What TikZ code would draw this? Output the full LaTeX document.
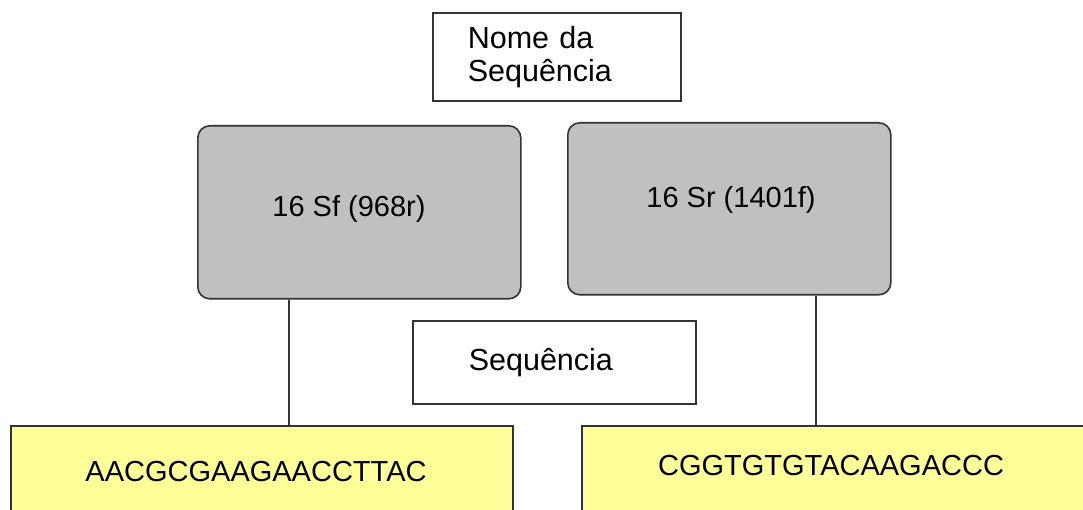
\documentclass[tikz,border=0pt]{standalone}
\usepackage{fontspec}
\setmainfont{Liberation Sans}
\definecolor{boxgrey}{HTML}{C0C0C0}
\definecolor{seqyellow}{HTML}{FFFF99}
\definecolor{edgegrey}{HTML}{333333}
\begin{document}
\begin{tikzpicture}[x=1pt,y=-1pt,
		every node/.style={font=\fontsize{29}{33}\selectfont},
		plainbox/.style={draw=edgegrey,line width=1.6pt,fill=white,align=left,inner ysep=0pt,anchor=north west,font=\fontsize{30.5}{33}\selectfont},
		greybox/.style={draw=edgegrey,line width=1.6pt,fill=boxgrey,rounded corners=12pt,anchor=north west},
		seqbox/.style={draw=edgegrey,line width=1.6pt,fill=seqyellow,anchor=north west},
		link/.style={draw=edgegrey,line width=1.6pt}]
			\path[use as bounding box,fill=white] (0,0) rectangle (1083,510);

			% titulo
			\node[plainbox,minimum width=248,minimum height=88,text width=178,inner xsep=35] (nome) at (432,12) {Nome da\\Sequência};

			% primers
			\node[greybox,minimum width=323,minimum height=173] (sf) at (197,125) {};
				\node (sftxt) at (349,209) {16 Sf (968r)};
			\node[greybox,minimum width=323,minimum height=172] (sr) at (567,122) {};
				\node (srtxt) at (731,200) {16 Sr (1401f)};

			\node[plainbox,minimum width=283,minimum height=83,text width=171,inner xsep=56] (seq) at (412,320) {Sequência};

			% sequencias
			\node[seqbox,minimum width=502,minimum height=110] (seqA) at (10,425) {};
				\node (seqAtxt) at (256,472) {AACGCGAAGAACCTTAC};
			\node[seqbox,minimum width=520,minimum height=110] (seqB) at (581,425) {};
				\node (seqBtxt) at (831,466) {CGGTGTGTACAAGACCC};

			\coordinate (sfout) at ([xshift=92pt]sf.south west);
			\draw[link] (sfout) -- (sfout |- seqA.north);
			\coordinate (srout) at ([xshift=249pt]sr.south west);
			\draw[link] (srout) -- (srout |- seqB.north);
\end{tikzpicture}
\end{document}
